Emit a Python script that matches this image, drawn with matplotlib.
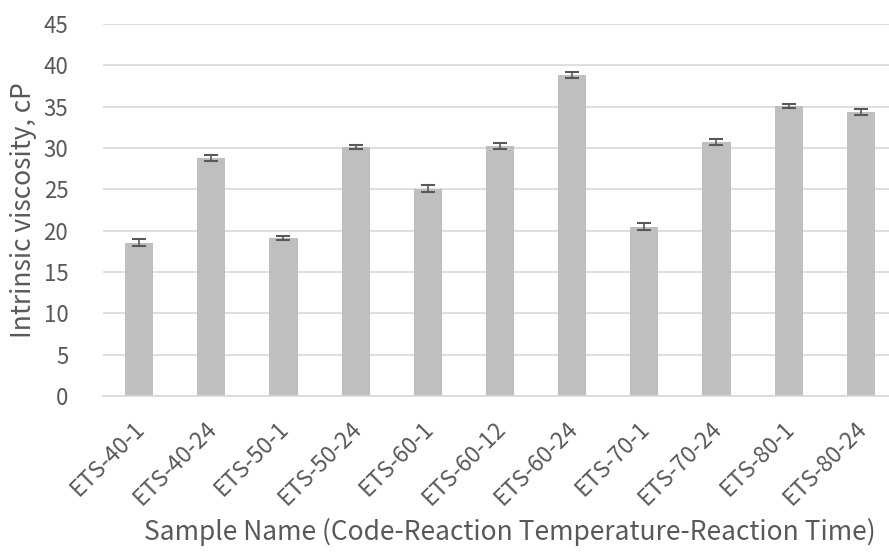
import matplotlib
matplotlib.use("Agg")
import matplotlib.pyplot as plt
import matplotlib.transforms as mtransforms
import numpy as np

samples = ["ETS-40-1", "ETS-40-24", "ETS-50-1", "ETS-50-24", "ETS-60-1", "ETS-60-12",
           "ETS-60-24", "ETS-70-1", "ETS-70-24", "ETS-80-1", "ETS-80-24"]
viscosity = [18.55, 28.75, 19.15, 30.15, 25.1, 30.25, 38.8, 20.45, 30.7, 35.1, 34.3]
err = [0.45, 0.36, 0.24, 0.24, 0.38, 0.34, 0.34, 0.42, 0.36, 0.26, 0.36]
yticks = [0, 5, 10, 15, 20, 25, 30, 35, 40, 45]

plt.rcParams['font.family'] = ['Noto Sans CJK KR', 'DejaVu Sans']
plt.rcParams['font.weight'] = 'light'
txt = '#595959'

fig = plt.figure(figsize=(8.89, 5.6), dpi=100)
ax = fig.add_axes([103/889, 1 - 396/560, 786/889, (396 - 24)/560])

x = np.arange(len(samples))
ax.bar(x, viscosity, width=0.39, color='#bfbfbf', zorder=2)
ax.errorbar(x, viscosity, yerr=err, fmt='none', ecolor='#595959', elinewidth=1.2,
            capsize=5, capthick=1.5, zorder=3)

ax.set_xlim(-0.5, 10.39)
ax.set_ylim(0, 45)
ax.set_yticks(yticks)
ax.yaxis.grid(True, color='#d9d9d9', linewidth=1.2, zorder=0)
ax.set_axisbelow(True)
for s in ['top', 'right', 'left']:
    ax.spines[s].set_visible(False)
ax.spines['bottom'].set_color('#d9d9d9')
ax.spines['bottom'].set_linewidth(1.2)
ax.tick_params(axis='both', length=0, colors=txt)
ax.tick_params(axis='y', pad=25, labelsize=16)
ax.set_xticks(x)
ax.set_xticklabels(samples, rotation=45, ha='right', rotation_mode='anchor')
ax.tick_params(axis='x', pad=15, labelsize=16.5)
shift = mtransforms.ScaledTranslation(-6/100, 0, fig.dpi_scale_trans)
for lab in ax.get_xticklabels():
    lab.set_transform(lab.get_transform() + shift)

ax.set_ylabel('Intrinsic viscosity, cP', color=txt, fontsize=19)
ax.yaxis.set_label_coords(-66/786, 0.5)
ax.set_xlabel('Sample Name (Code-Reaction Temperature-Reaction Time)', color=txt,
              fontsize=19)
ax.xaxis.set_label_coords((510 - 103)/786, -(540 - 396)/372)
ax.xaxis.label.set_va('baseline')

fig.savefig('out.png', dpi=100)
